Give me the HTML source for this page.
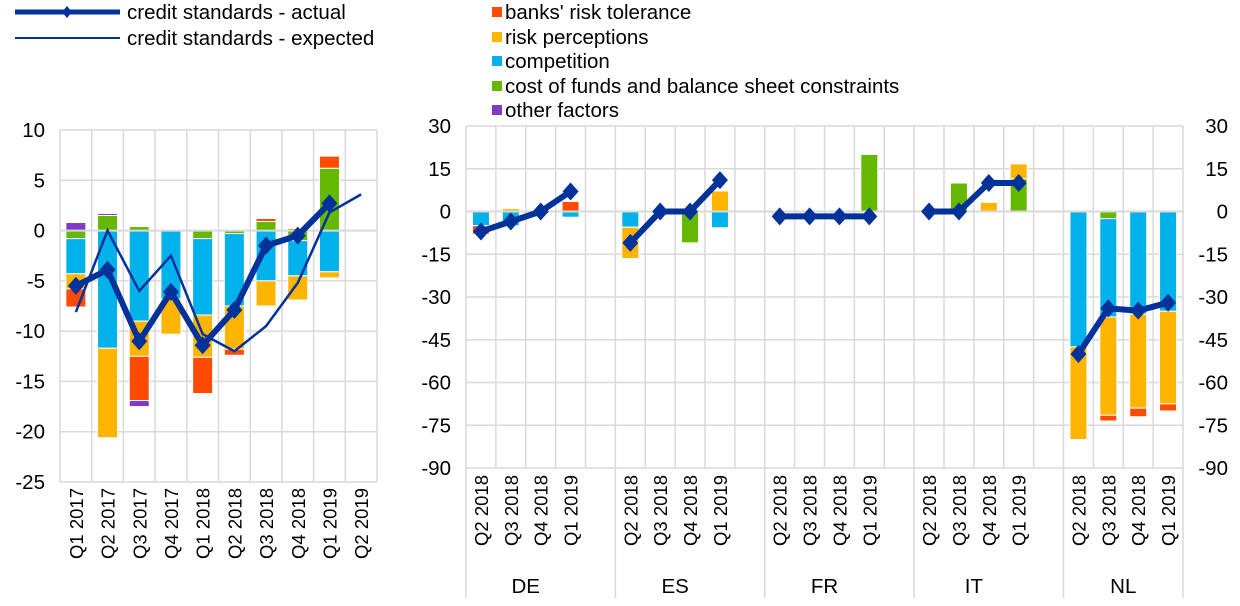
<!DOCTYPE html>
<html><head><meta charset="utf-8"><style>
body{margin:0;background:#fff;width:1240px;height:601px;overflow:hidden}
svg{font-family:"Liberation Sans",Arial,sans-serif}
</style></head><body>
<svg id="c" width="1240" height="601" xmlns="http://www.w3.org/2000/svg">
<g id="legend" font-size="20.5" fill="#000">
<g><line x1="15" y1="12" x2="120" y2="12" stroke="#003299" stroke-width="5"/><path d="M67 6 L72 12 L67 18 L62 12Z" fill="#003299"/><text x="127" y="19">credit standards - actual</text></g>
<g><line x1="15" y1="38" x2="120" y2="38" stroke="#003299" stroke-width="2"/><text x="127" y="45">credit standards - expected</text></g>
<g><rect x="492" y="7" width="10" height="10" fill="#ff4b00"/><text x="505" y="19">banks' risk tolerance</text></g>
<g><rect x="492" y="32" width="10" height="10" fill="#ffb400"/><text x="505" y="44">risk perceptions</text></g>
<g><rect x="492" y="56" width="10" height="10" fill="#00b1ea"/><text x="505" y="68">competition</text></g>
<g><rect x="492" y="81" width="10" height="10" fill="#65b800"/><text x="505" y="93">cost of funds and balance sheet constraints</text></g>
<g><rect x="492" y="105" width="10" height="10" fill="#8139c6"/><text x="505" y="117">other factors</text></g>
</g>
</svg>
<script>
// order: cost of funds, competition, risk perceptions, risk tolerance, other
const seriesColors=["#65b800","#00b1ea","#ffb400","#ff4b00","#8139c6"];
const leftCategories=["Q1 2017","Q2 2017","Q3 2017","Q4 2017","Q1 2018","Q2 2018","Q3 2018","Q4 2018","Q1 2019","Q2 2019"];
const leftCostFunds=[-0.8,1.5,0.4,0,-0.8,-0.3,0.9,-1,6.2,null];
const leftCompetition=[-3.5,-11.7,-9,-6.8,-7.6,-7.2,-5,-3.5,-4.1,null];
const leftRiskPerc=[-1.5,-8.9,-3.5,-3.5,-4.2,-4.3,-2.5,-2.4,-0.6,null];
const leftRiskTol=[-1.8,0,-4.4,0,-3.6,-0.6,0.3,0.2,1.2,null];
const leftOther=[0.8,0.2,-0.6,0,0,0,0,0,0,null];
const leftActual=[-5.5,-3.9,-11,-6.1,-11.4,-7.9,-1.5,-0.5,2.7,null];
const leftExpected=[-8.1,0,-6,-2.5,-10.3,-12,-9.5,-5.2,1.8,3.6];
const leftTicks=[10,5,0,-5,-10,-15,-20,-25];

const groups=["DE","ES","FR","IT","NL"];
const rightCategories=["Q2 2018","Q3 2018","Q4 2018","Q1 2019"];
const rightCostFunds=[0,0,0,0, 0,0,-11,0, -0.5,0,0,20, 0,10,0,11.5, 0,-2.5,0,0];
const rightCompetition=[-5,-5,0,-2, -5.5,0,0,-5.7, 0,0,0,0, 0,0,0,0, -47.5,-34.5,-36,-35];
const rightRiskPerc=[0,1,0,0, -11,0,0,7.2, 0,0,0,0, 0,0,3.2,5.2, -32.5,-34.5,-33,-32.5];
const rightRiskTol=[-3,0,0,3.5, 0,0,0,0, -0.5,0,0,0, 0,0,0,0, 0,-2,-3,-2.5];
const rightOther=[0,0,0,0, 0,0,0,0, 0,0,0,0, 0,0,0,0, 0,0,0,0];
const rightActual=[-7,-3.5,0,7, -11,0,0,11, -1.7,-1.7,-1.7,-1.7, 0,0,10,10, -50,-34,-34.8,-32];
const rightTicks=[30,15,0,-15,-30,-45,-60,-75,-90];

const NS="http://www.w3.org/2000/svg";
const svg=document.getElementById('c');
function el(t,a,p){const e=document.createElementNS(NS,t);for(const k in a)e.setAttribute(k,a[k]);(p||svg).appendChild(e);return e;}

// LEFT
const L={x0:60,x1:377,yTop:130,yBot:482,vMax:10,vMin:-25};
const ly=v=>L.yTop+(L.vMax-v)*(L.yBot-L.yTop)/(L.vMax-L.vMin);
const lw=(L.x1-L.x0)/leftCategories.length;
const lx=i=>L.x0+lw*(i+0.5);
const gL=el('g',{});


leftTicks.forEach(t=>{
  const ln=el('line',{x1:L.x0,x2:L.x1,y1:ly(t),y2:ly(t),stroke:'#d9d9d9','stroke-width':1.5},gL);
  
  
  const tx=el('text',{x:45,y:ly(t)+7,'text-anchor':'end','font-size':20.5},gL);
  tx.textContent=t;
  
  
});
for(let i=0;i<=leftCategories.length;i++){
  const ln=el('line',{x1:L.x0+lw*i,x2:L.x0+lw*i,y1:L.yTop,y2:L.yBot,stroke:'#d9d9d9','stroke-width':1.5},gL);
  
  
}
function stacks(series,n,xf,yf,bw,g,prefix){
  for(let i=0;i<n;i++){
    let pos=0,neg=0;
    series.forEach((s,k)=>{
      const v=s[i]; if(!v) return;
      let a,b;
      if(v>0){a=pos;b=pos+v;pos=b;}else{a=neg;b=neg+v;neg=b;}
      const r=el('rect',{x:xf(i)-bw/2,y:Math.min(yf(a),yf(b)),width:bw,height:Math.abs(yf(a)-yf(b)),fill:seriesColors[k],stroke:'#fff','stroke-width':1},g);
      
      
    });
  }
}
stacks([leftCostFunds,leftCompetition,leftRiskPerc,leftRiskTol,leftOther],leftCategories.length,lx,ly,20,gL,'left');
const zl=el('line',{x1:L.x0,x2:L.x1,y1:ly(0),y2:ly(0),stroke:'#d9d9d9','stroke-width':2},gL);


function linePath(vals,xf,yf){let d='';vals.forEach((v,i)=>{if(v===null)return;d+=(d?'L':'M')+xf(i)+' '+yf(v)+' ';});return d;}
const exL=el('path',{d:linePath(leftExpected,lx,ly),fill:'none',stroke:'#003299','stroke-width':2.5},gL);


const acL=el('path',{d:linePath(leftActual,lx,ly),fill:'none',stroke:'#003299','stroke-width':6,'stroke-linejoin':'round'},gL);


function markers(vals,xf,yf,g,name){vals.forEach((v,i)=>{if(v===null)return;const x=xf(i),y=yf(v);
  const m=el('path',{d:`M${x} ${y-9}L${x+8} ${y}L${x} ${y+9}L${x-8} ${y}Z`,fill:'#003299'},g);
  
  });}
markers(leftActual,lx,ly,gL,'left-actual-marker');
leftCategories.forEach((c,i)=>{
  const t=el('text',{x:0,y:0,'font-size':18.5,'text-anchor':'end',transform:`translate(${lx(i)+7},${L.yBot+6}) rotate(-90)`},gL);
  t.textContent=c;
  
  
});

// RIGHT
const R={x0:466,x1:1183,yTop:126,yBot:468,vMax:30,vMin:-90};
const ry=v=>R.yTop+(R.vMax-v)*(R.yBot-R.yTop)/(R.vMax-R.vMin);
const slots=groups.length*5-1;
const rw=(R.x1-R.x0)/slots;
const rx=i=>R.x0+rw*(Math.floor(i/4)*5+(i%4)+0.5);
const gR=el('g',{});


rightTicks.forEach(t=>{
  const ln=el('line',{x1:R.x0,x2:R.x1,y1:ry(t),y2:ry(t),stroke:'#d9d9d9','stroke-width':1.5},gR);
  
  
  const a=el('text',{x:451,y:ry(t)+7,'text-anchor':'end','font-size':20.5},gR);
  a.textContent=t;
  
  
  const b=el('text',{x:1228,y:ry(t)+7,'text-anchor':'end','font-size':20.5},gR);
  b.textContent=t;
  
  
});
for(let i=0;i<=slots;i++){
  const x=R.x0+rw*i;
  const isGroup=(i%5===0)||i===slots;
  const ln=el('line',{x1:x,x2:x,y1:R.yTop,y2:isGroup?598:R.yBot,stroke:'#d9d9d9','stroke-width':1.5},gR);
  
  
}
stacks([rightCostFunds,rightCompetition,rightRiskPerc,rightRiskTol,rightOther],rightActual.length,rx,ry,17,gR,'right');
const zr=el('line',{x1:R.x0,x2:R.x1,y1:ry(0),y2:ry(0),stroke:'#d9d9d9','stroke-width':2},gR);


groups.forEach((g,gi)=>{
  const seg=rightActual.slice(gi*4,gi*4+4);
  const p=el('path',{d:linePath(seg,j=>rx(gi*4+j),ry),fill:'none',stroke:'#003299','stroke-width':6,'stroke-linejoin':'round'},gR);
  
  
  const t=el('text',{x:R.x0+rw*(gi*5+2),y:593,'text-anchor':'middle','font-size':20.5},gR);
  t.textContent=g;
  
  
});
markers(rightActual,rx,ry,gR,'right-actual-marker');
rightActual.forEach((v,i)=>{
  const t=el('text',{x:0,y:0,'font-size':18.5,'text-anchor':'end',transform:`translate(${rx(i)+7},${R.yBot+7}) rotate(-90)`},gR);
  t.textContent=rightCategories[i%4];
  
  
});
</script>
</body></html>
